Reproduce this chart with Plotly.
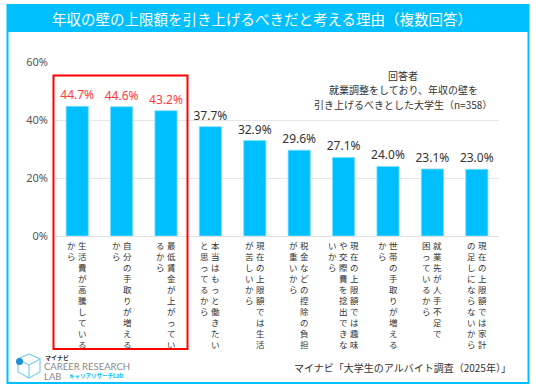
import plotly.graph_objects as go

# ---- data ----
categories = [
    "生活費が高騰している\nから",
    "自分の手取りが増える\nから",
    "最低賃金が上がってい\nるから",
    "本当はもっと働きたい\nと思ってるから",
    "現在の上限額では生活\nが苦しいから",
    "税金などの控除の負担\nが重いから",
    "現在の上限額では趣味\nや交際費を捻出できな\nいから",
    "世帯の手取りが増える\nから",
    "就業先が人手不足で\n困っているから",
    "現在の上限額では家計\nの足しにならないから",
]
values = [44.7, 44.6, 43.2, 37.7, 32.9, 29.6, 27.1, 24.0, 23.1, 23.0]
highlight_count = 3
y_ticks = [0, 20, 40, 60]
y_tick_labels = ["0%", "20%", "40%", "60%"]

title_text = "年収の壁の上限額を引き上げるべきだと考える理由（複数回答）"
note_lines = ["回答者", "就業調整をしており、年収の壁を", "引き上げるべきとした大学生（n=358）"]
source_text = "マイナビ「大学生のアルバイト調査（2025年）」"

# ---- layout geometry ----
W, H = 536, 389
L, R, T, B = 55, 37, 62, 153
PW, PH = W - L - R, H - T - B
BLUE = "#00BFFF"
RED = "#FF0000"
JP = "Noto Sans CJK JP"


def px(x):
    return (x - L) / PW


def py(y):
    return (H - B - y) / PH


x_idx = list(range(len(categories)))
bar_text = [f"{v:.1f}%" for v in values]
text_colors = [("#FF3B3B" if i < highlight_count else "#333333") for i in x_idx]

fig = go.Figure()
fig.add_trace(go.Bar(
    x=x_idx, y=values, width=0.5,
    marker=dict(color=BLUE, line=dict(color="#7FDFFF", width=0.8)),
    text=bar_text, textposition="outside", cliponaxis=False,
    constraintext="none",
    textfont=dict(size=12, color=text_colors, family="Noto Sans"),
    hoverinfo="skip",
))

annotations = []
# vertical category labels: each column is one annotation, columns right-to-left
col_gap = 11
for i, lab in enumerate(categories):
    cols = lab.split("\n")
    n = len(cols)
    for j, col in enumerate(cols):
        off = ((n - 1) / 2 - j) * col_gap
        annotations.append(dict(
            x=i, y=0, xref="x", yref="y", xanchor="center", yanchor="top",
            yshift=-1, xshift=off, showarrow=False, align="center",
            text="<br>".join(list(col)),
            font=dict(size=8.5, color="#333333", family=JP),
        ))

for k, (line, yy) in enumerate(zip(note_lines, [75, 89.5, 104])):
    annotations.append(dict(
        x=px(403), y=py(yy), xref="paper", yref="paper", showarrow=False,
        text=line, font=dict(size=10, color="#333333", family=JP),
        xanchor="center", yanchor="middle"))

annotations += [
    dict(x=px(262), y=py(18.5), xref="paper", yref="paper", showarrow=False,
         text=title_text, font=dict(size=14.5, color="white", family=JP),
         xanchor="center", yanchor="middle"),
    dict(x=px(513), y=py(367), xref="paper", yref="paper", showarrow=False,
         text=source_text, font=dict(size=10, color="#333333", family=JP),
         xanchor="right", yanchor="middle"),
    # logo texts
    dict(x=px(43), y=py(357), xref="paper", yref="paper", showarrow=False,
         text="<b>マイナビ</b>", font=dict(size=6, color="#333333", family=JP),
         xanchor="left", yanchor="middle"),
    dict(x=px(42), y=py(366), xref="paper", yref="paper", showarrow=False,
         text="CAREER RESEARCH", font=dict(size=9.5, color="#8a8a8a", family="Lato"),
         xanchor="left", yanchor="middle"),
    dict(x=px(42), y=py(376), xref="paper", yref="paper", showarrow=False,
         text="LAB", font=dict(size=9.5, color="#8a8a8a", family="Lato"),
         xanchor="left", yanchor="middle"),
    dict(x=px(67), y=py(376), xref="paper", yref="paper", showarrow=False,
         text="<b>キャリアリサーチLab</b>", font=dict(size=5.5, color=BLUE, family=JP),
         xanchor="left", yanchor="middle"),
]

shapes = [
    # outer frame
    dict(type="rect", xref="paper", yref="paper", x0=px(7.5), x1=px(528.5),
         y0=py(5), y1=py(383), line=dict(color=BLUE, width=2), fillcolor="rgba(0,0,0,0)",
         layer="below"),
    # title bar
    dict(type="rect", xref="paper", yref="paper", x0=px(7), x1=px(529),
         y0=py(5), y1=py(32), line=dict(width=0), fillcolor=BLUE, layer="below"),
    # red highlight box
    dict(type="rect", xref="paper", yref="paper", x0=px(53.5), x1=px(187.5),
         y0=py(75.5), y1=py(349), line=dict(color=RED, width=2), fillcolor="rgba(0,0,0,0)"),
    # logo cube
    dict(type="path", xref="paper", yref="paper",
         path=(f"M {px(29)} {py(354)} L {px(40)} {py(359)} L {px(40)} {py(372)} "
               f"L {px(29)} {py(378)} L {px(18)} {py(372)} L {px(18)} {py(359)} Z "
               f"M {px(18)} {py(359)} L {px(29)} {py(365)} L {px(40)} {py(359)} "
               f"M {px(29)} {py(365)} L {px(29)} {py(378)}"),
         line=dict(color="#7FCFEA", width=1.2)),
    dict(type="circle", xref="paper", yref="paper",
         x0=px(16), x1=px(23), y0=py(358), y1=py(365),
         fillcolor="#1E90D6", line=dict(width=0)),
]

fig.update_layout(
    width=W, height=H,
    margin=dict(l=L, r=R, t=T, b=B, pad=0),
    paper_bgcolor="white", plot_bgcolor="white",
    showlegend=False,
    bargap=0.5,
    hovermode=False,
    xaxis=dict(range=[-0.5, len(categories) - 0.5], showticklabels=False,
               showgrid=False, zeroline=False, showline=False, ticks=""),
    yaxis=dict(range=[0, 60], tickvals=y_ticks, ticktext=y_tick_labels,
               showgrid=True, gridcolor="#E6E6E6", gridwidth=1,
               zeroline=True, zerolinecolor="#E0E0E0", zerolinewidth=1,
               showline=False, ticks="", ticklabelstandoff=6,
               tickfont=dict(size=11, color="#555555", family="Noto Sans")),
    annotations=annotations,
    shapes=shapes,
    font=dict(family=JP),
)

fig.write_html("out.html", config={"displayModeBar": False},
               post_script="document.body.style.margin='0';")
